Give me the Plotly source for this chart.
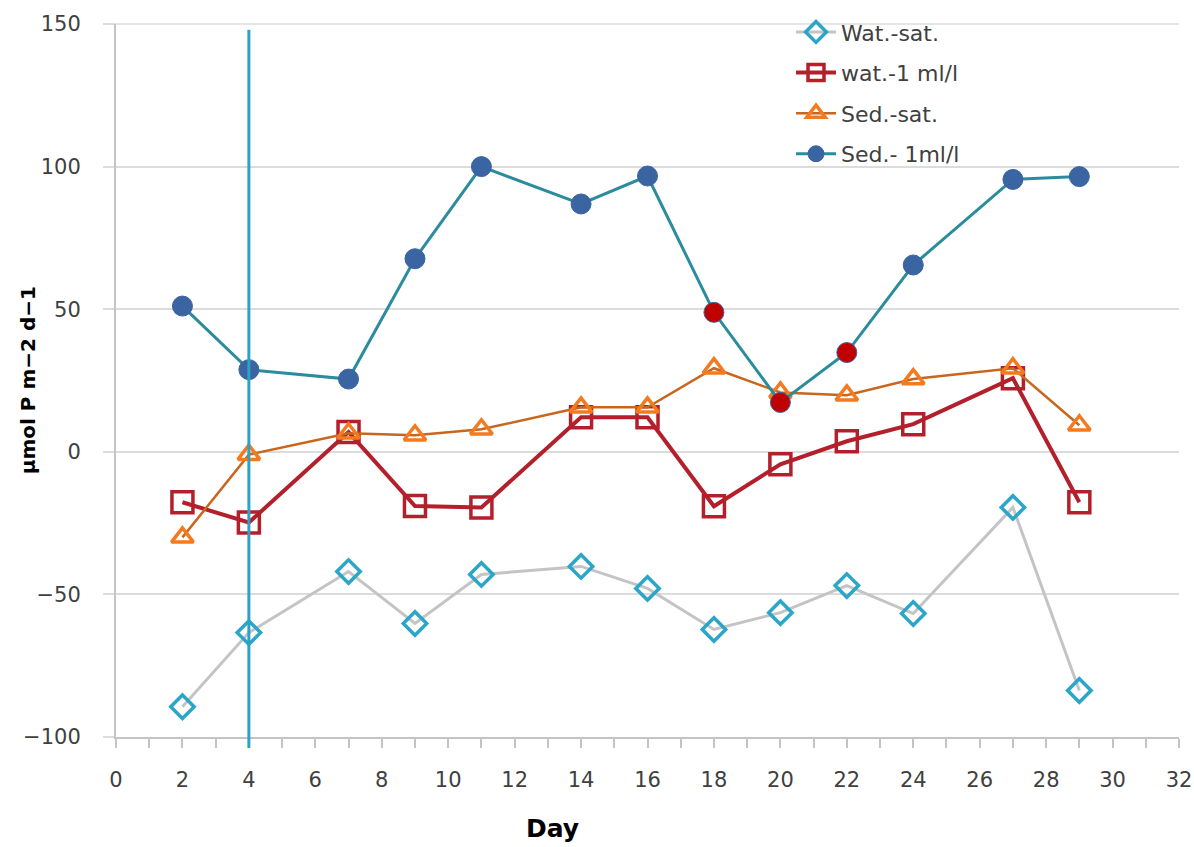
import plotly.graph_objects as go

# Sampling days
days = [2, 4, 7, 9, 11, 14, 16, 18, 20, 22, 24, 27, 29]

# Phosphate flux, µmol P m-2 d-1
wat_sat = [-89.4, -63.4, -42.0, -60.2, -43.0, -40.2, -47.9, -62.3, -56.4, -46.9, -56.7, -19.5, -83.7]
wat_1ml = [-17.7, -24.8, 6.9, -19.0, -19.5, 12.1, 12.1, -19.1, -4.4, 3.7, 9.7, 25.8, -17.7]
sed_sat = [-30.0, -1.0, 6.5, 5.8, 7.9, 15.6, 15.6, 29.3, 20.8, 19.8, 25.5, 29.3, 9.3]
sed_1ml = [51.1, 28.8, 25.5, 67.7, 100.0, 86.9, 96.7, 48.9, 17.3, 34.8, 65.5, 95.5, 96.5]

# Days on which the Sed.- 1ml/l point is highlighted
highlight_days = [18, 20, 22]

# Day of the vertical reference line
marker_day = 4

x_ticks = list(range(0, 33, 2))
y_ticks = [-100, -50, 0, 50, 100, 150]

tick_font = dict(family="DejaVu Sans", size=21, color="#404040")
grid_color = "#dcdcdc"

fig = go.Figure()

fig.add_trace(go.Scatter(
    x=days, y=wat_sat, name="Wat.-sat.", legendgroup="a",
    mode="lines+markers",
    line=dict(color="#c4c4c4", width=3),
    marker=dict(symbol="diamond-open", size=18, color="#2ba6c8", line=dict(width=3.5, color="#2ba6c8")),
))
fig.add_trace(go.Scatter(
    x=days, y=wat_1ml, name="wat.-1 ml/l", legendgroup="b",
    mode="lines+markers",
    line=dict(color="#b3202c", width=4),
    marker=dict(symbol="square-open", size=21, color="#b3202c", line=dict(width=3.5, color="#b3202c")),
))
fig.add_trace(go.Scatter(
    x=days, y=sed_sat, name="Sed.-sat.", legendgroup="c",
    mode="lines+markers",
    line=dict(color="#c8661e", width=2.5),
    marker=dict(symbol="triangle-up-open", size=19, color="#f47a20", line=dict(width=3.5, color="#f47a20")),
))
sed_colors = ["#c00000" if d in highlight_days else "#3b64a2" for d in days]
fig.add_trace(go.Scatter(
    x=days, y=sed_1ml, name="Sed.- 1ml/l", legendgroup="d",
    mode="lines+markers",
    line=dict(color="#2a8c9c", width=3),
    marker=dict(symbol="circle", size=20, color=sed_colors, line=dict(width=1, color="#3b64a2")),
))

# Top gridline at the edge of the value range
fig.add_shape(type="line", xref="paper", yref="paper",
              x0=-0.01, x1=1, y0=1, y1=1,
              line=dict(color=grid_color, width=1.5), layer="below")

# Vertical reference line, running slightly below the x axis
fig.add_shape(type="line", xref="x", yref="paper",
              x0=marker_day, x1=marker_day, y0=-0.0155, y1=0.992,
              line=dict(color="#2ba3c6", width=3), layer="above")

fig.update_layout(
    width=1194, height=847,
    margin=dict(l=116, r=15, t=24, b=110, autoexpand=False),
    paper_bgcolor="white", plot_bgcolor="white",
    showlegend=True,
    legend=dict(
        x=0.635, y=1.018, xanchor="left", yanchor="top",
        bgcolor="rgba(0,0,0,0)",
        font=dict(family="DejaVu Sans", size=22, color="#404040"),
        tracegroupgap=9,
        itemwidth=40,
    ),
    xaxis=dict(
        range=[0, 32], tickvals=x_ticks, ticktext=[str(v) for v in x_ticks],
        showgrid=False, zeroline=False, automargin=False,
        showline=True, linecolor="#c4c4c4", linewidth=2,
        ticks="outside", ticklen=9, tickwidth=2, tickcolor="#c4c4c4",
        minor=dict(dtick=1, ticks="outside", ticklen=9, tickwidth=2, tickcolor="#c4c4c4", showgrid=False),
        tickfont=tick_font, ticklabelstandoff=14,
    ),
    yaxis=dict(
        range=[-100, 150], tickvals=y_ticks,
        showgrid=True, gridcolor=grid_color, gridwidth=1.5, zeroline=False, automargin=False,
        showline=True, linecolor="#c4c4c4", linewidth=2,
        ticks="outside", ticklen=11, tickwidth=1.5, tickcolor=grid_color,
        tickfont=tick_font, ticklabelstandoff=18,
    ),
    annotations=[
        dict(text="<b>Day</b>", xref="paper", yref="paper", x=0.411, y=-0.128,
             xanchor="center", yanchor="middle", showarrow=False,
             font=dict(family="DejaVu Sans", size=25, color="#000000")),
        dict(text="<b>µmol P m−2 d−1</b>", xref="paper", yref="paper", x=-0.083, y=0.5,
             xanchor="center", yanchor="middle", showarrow=False, textangle=-90,
             font=dict(family="DejaVu Sans", size=20, color="#000000")),
    ],
)

fig.write_html("out.html")
